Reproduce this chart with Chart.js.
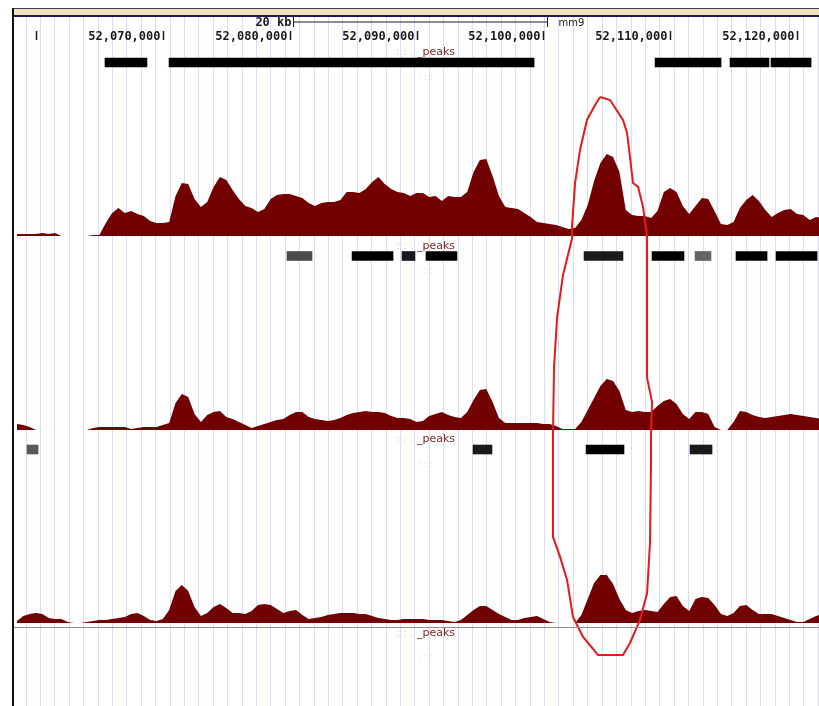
<!DOCTYPE html>
<html>
<head>
<meta charset="utf-8">
<script src="https://cdn.jsdelivr.net/npm/chart.js@4.4.0/dist/chart.umd.min.js"></script>
<style>
  html, body { margin: 0; padding: 0; background: #fff; }
  #wrap { position: relative; width: 819px; height: 706px; overflow: hidden; }
  #topbar { position: absolute; left: 12px; top: 8px; width: 807px; height: 6px;
            background: #f1e2c4; border-top: 1px solid #444; border-bottom: 2px solid #1c1c5c; }
  #leftline { position: absolute; left: 12px; top: 8px; width: 2px; height: 698px; background: #111; }
  canvas { position: absolute; left: 0; top: 0; }
</style>
</head>
<body>
<div id="wrap">
  <canvas id="c" width="819" height="706"></canvas>
  <div id="topbar"></div>
  <div id="leftline"></div>
</div>
<script>
// genomic positions (kb, chr mm9) of the coverage samples
const positions = [
  52058.5, 52059, 52059.5, 52060, 52060.5, 52061, 52061.5, 52062,
  52062.5, 52063, 52063.5, 52064, 52064.5, 52065, 52065.5, 52066,
  52066.5, 52067, 52067.5, 52068, 52068.5, 52069, 52069.5, 52070,
  52070.5, 52071, 52071.5, 52072, 52072.5, 52073, 52073.5, 52074,
  52074.5, 52075, 52075.5, 52076, 52076.5, 52077, 52077.5, 52078,
  52078.5, 52079, 52079.5, 52080, 52080.5, 52081, 52081.5, 52082,
  52082.5, 52083, 52083.5, 52084, 52084.5, 52085, 52085.5, 52086,
  52086.5, 52087, 52087.5, 52088, 52088.5, 52089, 52089.5, 52090,
  52090.5, 52091, 52091.5, 52092, 52092.5, 52093, 52093.5, 52094,
  52094.5, 52095, 52095.5, 52096, 52096.5, 52097, 52097.5, 52098,
  52098.5, 52099, 52099.5, 52100, 52100.5, 52101, 52101.5, 52102,
  52102.5, 52103, 52103.5, 52104, 52104.5, 52105, 52105.5, 52106,
  52106.5, 52107, 52107.5, 52108, 52108.5, 52109, 52109.5, 52110,
  52110.5, 52111, 52111.5, 52112, 52112.5, 52113, 52113.5, 52114,
  52114.5, 52115, 52115.5, 52116, 52116.5, 52117, 52117.5, 52118,
  52118.5, 52119, 52119.5, 52120, 52120.5, 52121, 52121.5, 52122
];

const signal1 = [
  2, 2, 2, 2, 3, 2, 3, 0,
  0, 0, 0, 0, 1, 1, 13, 23,
  28, 23, 25, 22, 20, 15, 13, 13,
  14, 40, 53, 52, 37, 29, 34, 49,
  59, 56, 46, 37, 30, 28, 24, 27,
  37, 41, 42, 42, 40, 38, 33, 30,
  33, 34, 34, 36, 44, 44, 43, 47,
  54, 59, 52, 47, 44, 43, 40, 43,
  43, 39, 40, 35, 40, 39, 39, 44,
  64, 76, 77, 60, 40, 29, 28, 27,
  23, 19, 14, 13, 12, 11, 9, 7,
  8, 16, 31, 55, 73, 82, 79, 64,
  26, 21, 20, 20, 18, 25, 44, 48,
  44, 30, 22, 30, 38, 37, 25, 12,
  11, 14, 28, 36, 41, 35, 26, 19,
  23, 26, 27, 22, 21, 16, 19, 18
];

const signal2 = [
  6, 5, 3, 0, 0, 0, 0, 0,
  0, 0, 0, 0, 2, 3, 3, 3,
  3, 3, 1, 2, 3, 3, 3, 5,
  7, 27, 36, 33, 16, 8, 15, 18,
  19, 13, 11, 8, 5, 2, 4, 6,
  8, 10, 11, 15, 18, 18, 13, 11,
  10, 9, 10, 12, 15, 17, 18, 19,
  18, 18, 17, 14, 12, 12, 11, 8,
  9, 14, 16, 18, 15, 13, 12, 18,
  30, 40, 41, 28, 12, 7, 7, 7,
  7, 7, 7, 6, 6, 4, 1, 1,
  1, 8, 20, 32, 44, 51, 49, 39,
  20, 18, 19, 18, 18, 24, 29, 31,
  26, 16, 11, 18, 18, 16, 3, 0,
  0, 8, 19, 18, 15, 13, 12, 13,
  14, 15, 16, 15, 14, 13, 12, 11
];

const signal3 = [
  2, 7, 9, 10, 9, 5, 4, 4,
  1, 0, 0, 1, 2, 3, 3, 4,
  5, 6, 9, 10, 7, 3, 2, 4,
  13, 32, 38, 32, 16, 7, 10, 16,
  19, 15, 10, 10, 9, 12, 18, 19,
  18, 14, 10, 12, 13, 8, 4, 5,
  6, 8, 9, 10, 10, 10, 9, 9,
  7, 5, 4, 3, 3, 4, 4, 4,
  4, 3, 3, 3, 2, 1, 3, 8,
  13, 17, 17, 13, 9, 6, 3, 3,
  5, 6, 7, 4, 1, 0, 0, 0,
  0, 8, 24, 40, 48, 48, 39, 24,
  13, 10, 12, 13, 12, 11, 19, 26,
  27, 17, 12, 24, 26, 25, 18, 9,
  7, 10, 17, 18, 13, 9, 9, 9,
  7, 5, 3, 1, 1, 4, 7, 9
];

// peak calls: track row, start/end (kb), score
const peakRow   = [0, 0, 0, 0, 0, 1, 1, 1, 1, 1, 1, 1, 1, 1, 2, 2, 2, 2];
const peakStart = [52065.44, 52070.49, 52108.81, 52114.72, 52117.95,
                   52079.79, 52084.92, 52088.86, 52090.75, 52103.21, 52108.57, 52111.96, 52115.19, 52118.35,
                   52059.29, 52094.46, 52103.37, 52111.57];
const peakEnd   = [52068.75, 52099.27, 52114.01, 52117.79, 52121.11,
                   52081.76, 52088.15, 52089.88, 52093.19, 52106.28, 52111.09, 52113.22, 52117.64, 52121.58,
                   52060.16, 52095.95, 52106.36, 52113.30];
const peakScore = [1000, 1000, 1000, 1000, 1000,
                   700, 1000, 900, 1000, 900, 1000, 600, 1000, 1000,
                   650, 900, 1000, 900];

// hand drawn ring (kb, track row)
const ringPos = [52104.47, 52105.26, 52106.28, 52106.60, 52106.83, 52107.07, 52107.47, 52107.86,
                 52108.18, 52108.18, 52108.18, 52108.57, 52108.49, 52108.49, 52108.41, 52108.18,
                 52107.62, 52106.83, 52106.28, 52104.31, 52103.13, 52102.34, 52101.87, 52101.32,
                 52100.76, 52100.76, 52100.84, 52101.08, 52101.55, 52102.26, 52102.26, 52102.50,
                 52102.89, 52103.44, 52104.08, 52104.47];
const ringRow = [0.178, 0.194, 0.297, 0.364, 0.488, 0.623, 0.643, 0.747,
                 0.902, 1.408, 1.630, 1.755, 1.925, 2.070, 2.481, 2.742,
                 2.881, 3.000, 3.062, 3.062, 2.969, 2.866, 2.674, 2.555,
                 2.452, 1.925, 1.579, 1.320, 1.098, 0.910, 0.848, 0.623,
                 0.452, 0.297, 0.220, 0.178];

const rulerTicks = [52060, 52070, 52080, 52090, 52100, 52110, 52120];
const scaleBar = [52080.3, 52100.3];
const trackNames = ['_peaks', '_peaks', '_peaks', '_peaks'];

// layout
const viewMin = 52058.265, viewMax = 52121.735;
const trackBase = [236, 430, 623];
const areaTop = 16, areaBottom = 706;
const gridStart = 52059.2115, gridStep = 1.13578;
const gridKb = [];
for (let g = gridStart; g < viewMax; g += gridStep) gridKb.push(g);

const fillColor = '#730000';
const shade = s => { const v = Math.round((1000 - s) / 4); return `rgb(${v},${v},${v})`; };
const fmt = k => Math.round(k * 1000).toLocaleString('en-US');

function coverage(values, axis) {
  return {
    type: 'line',
    data: positions.map((p, i) => ({ x: p, y: values[i] })),
    yAxisID: axis,
    fill: 'origin',
    backgroundColor: fillColor,
    borderColor: fillColor,
    borderWidth: 0,
    pointRadius: 0,
    tension: 0,
    order: 3
  };
}

function trackScale(base) {
  return { type: 'linear', axis: 'y', display: false, min: -(areaBottom - base), max: base - areaTop };
}

const ruler = {
  id: 'ruler',
  afterDraw(chart) {
    const ctx = chart.ctx, x = chart.scales.x;
    ctx.save();
    ctx.fillStyle = '#1a1a1a';
    ctx.strokeStyle = '#1a1a1a';
    ctx.lineWidth = 1.5;
    ctx.font = 'bold 12px "DejaVu Sans Mono"';
    ctx.textBaseline = 'middle';
    ctx.textAlign = 'right';
    rulerTicks.forEach(k => {
      const px = Math.round(x.getPixelForValue(k)) + 0.5;
      ctx.beginPath(); ctx.moveTo(px, 31); ctx.lineTo(px, 40); ctx.stroke();
      const label = fmt(k);
      if (px - 3 - ctx.measureText(label).width >= chart.chartArea.left) ctx.fillText(label, px - 3, 37);
    });
    // scale bar
    const a = Math.round(x.getPixelForValue(scaleBar[0])) + 0.5;
    const b = Math.round(x.getPixelForValue(scaleBar[1])) + 0.5;
    ctx.lineWidth = 1;
    ctx.beginPath();
    ctx.moveTo(a, 17); ctx.lineTo(a, 27);
    ctx.moveTo(a, 22); ctx.lineTo(b, 22);
    ctx.moveTo(b, 17); ctx.lineTo(b, 27);
    ctx.stroke();
    ctx.fillText(Math.round(scaleBar[1] - scaleBar[0]) + ' kb', a - 2, 23);
    ctx.textAlign = 'left';
    ctx.font = '10px "DejaVu Sans"';
    ctx.fillText('mm9', b + 11, 23);
    ctx.restore();
  }
};

const trackLabels = {
  id: 'trackLabels',
  afterDraw(chart) {
    const ctx = chart.ctx, rows = chart.scales.yRows;
    ctx.save();
    ctx.textBaseline = 'middle';
    trackNames.forEach((name, r) => {
      const y = rows.getPixelForValue(r);
      ctx.font = '11px "DejaVu Sans"';
      ctx.textAlign = 'left';
      ctx.fillStyle = '#d6c8cc';
      ctx.fillText(': : .', 396, y - 10);
      ctx.fillStyle = '#7a2a2a';
      ctx.fillText(name, 417, y - 10);
      ctx.fillStyle = '#e2d6da';
      ctx.font = '9px "DejaVu Sans"';
      ctx.fillText(': : :', 418, y + 15);
    });
    // separator under the last signal track
    ctx.strokeStyle = '#a08888';
    ctx.lineWidth = 1;
    ctx.beginPath();
    ctx.moveTo(chart.chartArea.left, 627.5);
    ctx.lineTo(chart.chartArea.right, 627.5);
    ctx.stroke();
    ctx.restore();
  }
};

new Chart(document.getElementById('c'), {
  type: 'line',
  data: {
    datasets: [
      {
        type: 'line',
        data: ringPos.map((p, i) => ({ x: p, y: ringRow[i] })),
        yAxisID: 'yRows',
        borderColor: '#e31b1b',
        borderWidth: 2,
        pointRadius: 0,
        fill: false,
        tension: 0,
        order: 0
      },
      coverage(signal1, 'yT1'),
      coverage(signal2, 'yT2'),
      coverage(signal3, 'yT3'),
      {
        type: 'bar',
        indexAxis: 'y',
        xAxisID: 'x',
        yAxisID: 'yRows',
        data: peakStart.map((s, i) => ({ x: [s, peakEnd[i]], y: peakRow[i] })),
        backgroundColor: peakScore.map(shade),
        barThickness: 9,
        borderWidth: 0,
        order: 2
      }
    ]
  },
  options: {
    responsive: false,
    animation: false,
    devicePixelRatio: 1,
    events: [],
    layout: { padding: { left: 14, top: areaTop, right: 0, bottom: 0 } },
    plugins: { legend: { display: false }, tooltip: { enabled: false } },
    scales: {
      x: {
        type: 'linear',
        position: 'bottom',
        min: viewMin,
        max: viewMax,
        afterBuildTicks: axis => { axis.ticks = gridKb.map(v => ({ value: v })); },
        ticks: { display: false },
        grid: { color: '#dcdcf5', lineWidth: 1, drawTicks: false },
        border: { display: false }
      },
      yT1: trackScale(trackBase[0]),
      yT2: trackScale(trackBase[1]),
      yT3: trackScale(trackBase[2]),
      yRows: { type: 'linear', axis: 'y', display: false, reverse: true, offset: false,
               min: -0.2403, max: 3.3256 }
    }
  },
  plugins: [trackLabels, ruler]
});
</script>
</body>
</html>
